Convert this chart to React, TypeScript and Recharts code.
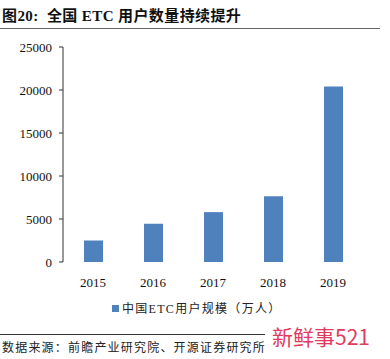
import React from 'react';
import { BarChart, Bar, XAxis, YAxis } from 'recharts';

const years = ['2015', '2016', '2017', '2018', '2019'];
const etcUsers = [2500, 4450, 5800, 7650, 20400];
const yTicks = [0, 5000, 10000, 15000, 20000, 25000];
const boundaryTicks = [0, 1, 2, 3, 4, 5];

const seriesName = '中国ETC用户规模（万人）';
const titleText = '图20:  全国 ETC 用户数量持续提升';
const sourceText = '数据来源：前瞻产业研究院、开源证券研究所';
const stampText = '新鲜事521';

const serif = '"Liberation Serif", "Times New Roman", "Noto Sans CJK SC", serif';
const barColor = '#4f81bd';

const data = years.map((y, i) => ({ year: y, users: etcUsers[i] }));

export default function App() {
  return (
    <div style={{ position: 'absolute', left: 0, top: 0, width: 390, height: 359, background: '#fff', fontFamily: serif }}>
      <div style={{ position: 'absolute', left: 2, top: 4, fontSize: 15, fontWeight: 'bold', color: '#111', whiteSpace: 'pre', letterSpacing: 0.4 }}>
        {titleText}
      </div>
      <div style={{ position: 'absolute', left: 0, top: 28, width: 380, height: 1, background: '#666' }} />

      <div style={{ position: 'absolute', left: 0, top: 0 }}>
        <BarChart width={390} height={292} data={data} margin={{ top: 47, right: 27, bottom: 0, left: 8 }} barCategoryGap={0}>
          <XAxis
            xAxisId="edges"
            type="number"
            domain={[0, 5]}
            ticks={boundaryTicks}
            tick={false}
            tickSize={4}
            height={0}
            axisLine={{ stroke: '#333' }}
            tickLine={{ stroke: '#333' }}
          />
          <XAxis
            dataKey="year"
            height={30}
            axisLine={false}
            tickLine={false}
            tickMargin={10}
            tick={{ fontSize: 13, fill: '#111', fontFamily: serif }}
          />
          <YAxis
            width={55}
            domain={[0, 25000]}
            ticks={yTicks}
            interval={0}
            tickSize={4}
            tickMargin={7}
            axisLine={{ stroke: '#333' }}
            tickLine={{ stroke: '#333' }}
            tick={{ fontSize: 13, fill: '#111', fontFamily: serif }}
          />
          <Bar dataKey="users" fill={barColor} barSize={19} isAnimationActive={false} />
        </BarChart>
      </div>

      <div style={{ position: 'absolute', left: 112, top: 299, display: 'flex', alignItems: 'center', fontSize: 12, color: '#222', letterSpacing: 1.3 }}>
        <span style={{ display: 'inline-block', width: 7, height: 7, background: barColor, marginRight: 3 }} />
        <span>{seriesName}</span>
      </div>

      <div style={{ position: 'absolute', left: 0, top: 334, width: 265, height: 1, background: '#333' }} />
      <div style={{ position: 'absolute', left: 2, top: 338, fontSize: 12, color: '#222', letterSpacing: 1.2 }}>
        {sourceText}
      </div>
      <div style={{ position: 'absolute', left: 272, top: 321, fontSize: 21, color: '#e23a5c', fontFamily: '"Noto Sans CJK SC", "Noto Sans", sans-serif' }}>
        {stampText}
      </div>
    </div>
  );
}
